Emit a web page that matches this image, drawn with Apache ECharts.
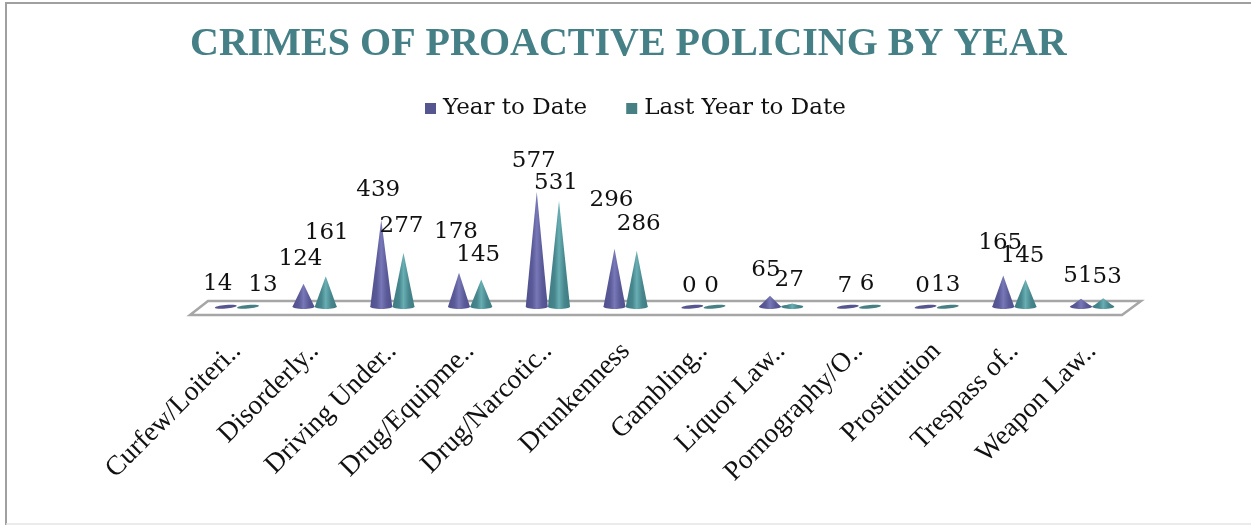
<!DOCTYPE html>
<html>
<head>
<meta charset="utf-8">
<style>html,body{margin:0;padding:0;background:#fff}#c{width:1251px;height:525px}</style>
<script src="https://cdn.jsdelivr.net/npm/echarts@6/dist/echarts.min.js"></script>
</head>
<body>
<div id="c"></div>
<script>
const categories = ["Curfew/Loiteri..","Disorderly..","Driving Under..","Drug/Equipme..","Drug/Narcotic..","Drunkenness","Gambling..","Liquor Law..","Pornography/O..","Prostitution","Trespass of..","Weapon Law.."];
const yearToDate = [14,124,439,178,577,296,0,65,7,0,165,51];
const lastYearToDate = [13,161,277,145,531,286,0,27,6,13,145,53];
const seriesNames = ["Year to Date","Last Year to Date"];
// label nudges from each cone's apex, as the reference scatters them
const labelNudgeA = [[-8,-22],[-3,-25],[-3,-30],[-3,-41],[-3,-31],[-3,-49],[-3,-23],[-4,-26],[-3,-22],[-3,-23],[-3,-32],[-3,-23]];
const labelNudgeB = [[15,-21],[1,-43],[-2,-27],[-3,-24],[-3,-18],[2,-27],[-3,-23],[-3,-23],[-3,-24],[-2,-21],[-3,-23],[4,-21]];

const serif = '"DejaVu Serif"';
function grad(edge, mid, light){
  return {type:'linear',x:0,y:0,x2:1,y2:0,colorStops:[
    {offset:0,color:edge},{offset:.3,color:mid},{offset:.5,color:light},{offset:.75,color:mid},{offset:1,color:edge}]};
}
function coneSeries(name, values, nudges, sign, fill, flat){
  return {
    name, type:'custom', coordinateSystem:'cartesian2d',
    itemStyle:{color:flat},
    data: values.map((v,i)=>[i,v]),
    encode:{x:0,y:1},
    renderItem(params, api){
      const i = api.value(0), v = api.value(1);
      const band = api.size([1,0])[0];
      const top = api.coord([i,v]);
      const base = api.coord([i,0]);
      const x = base[0] + sign*band*0.143;
      const rx = 11, ry = 2.2, by = base[1]-2.2;
      const n = nudges[i];
      const lying = v < 20;
      const children = [
        {type:'ellipse',x:x,y:by,rotation:lying?0.09:0,shape:{cx:0,cy:0,rx:rx,ry:lying?1.8:ry},style:{fill:lying?flat:fill}},
        {type:'text',z2:10,style:{text:String(v),x:x+n[0],y:top[1]+n[1],align:'center',verticalAlign:'middle',
          font:'23px '+serif,fill:'#111'}}
      ];
      if(!lying) children.splice(1,0,{type:'polygon',shape:{points:[[x,top[1]],[x-rx,by],[x+rx,by]]},style:{fill:fill}});
      return {type:'group',children};
    }
  };
}
const chart = echarts.init(document.getElementById('c'),null,{renderer:'canvas'});
chart.setOption({
  animation:false,
  backgroundColor:'#fff',
  title:{text:'CRIMES OF PROACTIVE POLICING BY YEAR',left:185,top:20,
    textStyle:{fontFamily:'"Liberation Serif"',fontWeight:'bold',fontSize:40,color:'#468087'}},
  legend:{top:92,left:420,itemWidth:11,itemHeight:11,itemGap:39,icon:'rect',
    textStyle:{fontFamily:serif,fontSize:23,color:'#111',padding:[0,0,0,2]},data:seriesNames},
  grid:{left:198,width:933,top:187,height:122},
  xAxis:{type:'category',data:categories,axisLine:{show:false},axisTick:{show:false},
    axisLabel:{rotate:45,interval:0,margin:38,fontFamily:'"Liberation Serif"',fontSize:27.5,color:'#111'}},
  yAxis:{type:'value',min:0,max:600,show:false,splitLine:{show:false}},
  graphic:[
    {type:'polyline',z:-1,shape:{points:[[6,525],[6,3],[1251,3]]},style:{fill:'none',stroke:'#a0a0a0',lineWidth:2}},
    {type:'line',z:-1,shape:{x1:6,y1:524,x2:1251,y2:524},style:{stroke:'#e4e4e4',lineWidth:1.5}},
    {type:'polygon',z:-1,shape:{points:[[190,315],[208,301],[1141,301],[1122,315]]},style:{fill:'#fff',stroke:'#a6a6a6',lineWidth:2.5}}
  ],
  series:[
    coneSeries(seriesNames[0],yearToDate,labelNudgeA,-1,grad('#50508e','#5a5a98','#7878b8'),'#55558f'),
    coneSeries(seriesNames[1],lastYearToDate,labelNudgeB,1,grad('#3e7c82','#46868c','#68aeb3'),'#468085')
  ]
});
</script>
</body>
</html>
